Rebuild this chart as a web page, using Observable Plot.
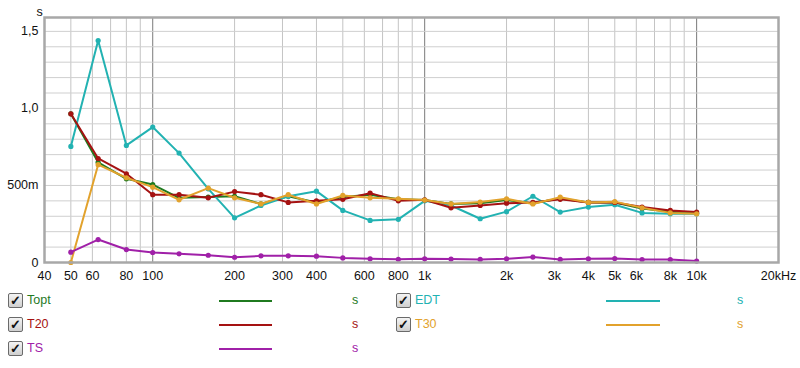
<!DOCTYPE html>
<html>
<head>
<meta charset="utf-8">
<script src="https://cdn.jsdelivr.net/npm/d3@7"></script>
<script src="https://cdn.jsdelivr.net/npm/@observablehq/plot@0.6"></script>
<style>
  html, body { margin: 0; padding: 0; background: #fff; }
  body { width: 800px; height: 368px; position: relative; overflow: hidden; font-family: "Liberation Sans", Arial, sans-serif; }
  #chart svg { display: block; }
  .item { position: absolute; height: 16px; font-size: 12.5px; }
  .cb { position: absolute; left: 0; top: 0; width: 13px; height: 13px; border: 1px solid #6a6a6a; border-radius: 2px;
        background: linear-gradient(#f4f4f4, #cfcfcf); font-size: 13px; line-height: 13px; text-align: center; color: #111; font-weight: bold; }
  .name { position: absolute; left: 19px; top: 0; line-height: 15px; }
  .swatch { position: absolute; height: 2px; top: 7px; }
  .unit { position: absolute; top: 0; line-height: 15px; }
</style>
</head>
<body>
<div id="chart"></div>
<div id="legend"></div>
<script>
const freqs = [50,63,80,100,125,160,200,250,315,400,500,630,800,1000,1250,1600,2000,2500,3150,4000,5000,6300,8000,10000];
const topt = [0.965,0.65,0.543,0.506,0.42,0.425,0.43,0.38,0.43,0.39,0.425,0.44,0.41,0.405,0.38,0.385,0.405,0.385,0.415,0.39,0.39,0.35,0.33,0.32];
const edt  = [0.753,1.44,0.76,0.879,0.71,0.478,0.29,0.37,0.43,0.463,0.338,0.273,0.28,0.40,0.37,0.284,0.33,0.43,0.327,0.36,0.375,0.322,0.316,0.316];
const t20  = [0.965,0.675,0.576,0.44,0.44,0.42,0.46,0.44,0.39,0.40,0.41,0.45,0.40,0.407,0.355,0.37,0.385,0.39,0.41,0.39,0.39,0.36,0.338,0.327];
const t30  = [0.0,0.635,0.55,0.489,0.407,0.483,0.42,0.38,0.44,0.38,0.435,0.42,0.413,0.405,0.38,0.392,0.413,0.38,0.424,0.39,0.395,0.355,0.322,0.316];
const ts   = [0.067,0.149,0.084,0.065,0.056,0.047,0.034,0.043,0.043,0.041,0.03,0.024,0.021,0.024,0.022,0.02,0.024,0.035,0.02,0.024,0.026,0.019,0.019,0.009];

const seriesNames = ["Topt","EDT","T20","T30","TS"];
const seriesValues = [topt, edt, t20, t30, ts];
const seriesColors = ["#1f7a1f","#22b2b2","#a51212","#e2a22c","#a020a8"];

const xTicks = [40,50,60,80,100,200,300,400,600,800,1000,2000,3000,4000,5000,6000,8000,10000,20000];
const xTickLabels = ["40","50","60","80","100","200","300","400","600","800","1k","2k","3k","4k","5k","6k","8k","10k","20kHz"];
const xMinorGrid = [50,60,70,80,90,200,300,400,500,600,700,800,900,2000,3000,4000,5000,6000,7000,8000,9000];
const xMajorGrid = [100,1000,10000];
const yGrid = [0.1,0.2,0.3,0.4,0.5,0.6,0.7,0.8,0.9,1.0,1.1,1.2,1.3,1.4,1.5];
const yTicks = [0,0.5,1.0,1.5];
const yTickLabels = ["0","500m","1,0","1,5"];

const rows = [];
seriesNames.forEach((name, si) => {
  freqs.forEach((f, i) => rows.push({series: name, f, v: seriesValues[si][i]}));
});

const colorOf = Object.fromEntries(seriesNames.map((n, i) => [n, seriesColors[i]]));

const xLabelRows = xTicks.map((f, i) => ({f, label: xTickLabels[i]}));
const yLabelRows = yTicks.map((v, i) => ({v, label: yTickLabels[i]}));

const marks = [
  Plot.ruleX(xMinorGrid, {stroke: "#c4c4c4", strokeWidth: 1}),
  Plot.ruleX(xMajorGrid, {stroke: "#7a7a7a", strokeWidth: 1}),
  Plot.ruleY(yGrid, {stroke: "#cfcfcf", strokeWidth: 1}),
];
seriesNames.forEach(name => {
  const d = rows.filter(r => r.series === name);
  marks.push(Plot.line(d, {x: "f", y: "v", stroke: colorOf[name], strokeWidth: 2}));
  marks.push(Plot.dot(d, {x: "f", y: "v", fill: colorOf[name], r: 2.6}));
});
marks.push(
  Plot.frame({stroke: "#a8a8a8", strokeWidth: 2.5}),
  Plot.text(xLabelRows, {x: "f", text: "label", frameAnchor: "bottom", dy: 13, fontSize: 12.5, fill: "#111", lineAnchor: "middle"}),
  Plot.text(yLabelRows, {y: "v", text: "label", frameAnchor: "left", dx: -6, textAnchor: "end", fontSize: 12.5, fill: "#111"}),
  Plot.text(["s"], {frameAnchor: "top-left", dx: -8, dy: -10, fontSize: 12.5, fill: "#111"})
);

const chart = Plot.plot({
  width: 800,
  height: 285,
  marginLeft: 44,
  marginRight: 22,
  marginTop: 17,
  marginBottom: 23,
  style: {fontFamily: "'Liberation Sans', Arial, sans-serif", background: "#fff", overflow: "visible"},
  x: {type: "log", domain: [40, 20000], axis: null, label: null},
  y: {domain: [0, 1.59], axis: null, label: null},
  marks
});
document.getElementById("chart").append(chart);

// legend (HTML below the SVG)
const legend = document.getElementById("legend");
const layout = [
  {name: "Topt", left: 8, top: 293, lineL: 219, lineW: 53, unitL: 352},
  {name: "EDT", left: 396, top: 293, lineL: 606, lineW: 54, unitL: 737},
  {name: "T20", left: 8, top: 317, lineL: 219, lineW: 53, unitL: 352},
  {name: "T30", left: 396, top: 317, lineL: 606, lineW: 54, unitL: 737},
  {name: "TS", left: 8, top: 341, lineL: 219, lineW: 53, unitL: 352},
];
layout.forEach(L => {
  const c = colorOf[L.name];
  const it = document.createElement("div");
  it.className = "item";
  it.style.left = L.left + "px";
  it.style.top = L.top + "px";
  it.style.width = (L.unitL - L.left + 20) + "px";
  it.innerHTML = `<span class="cb">✓</span><span class="name" style="color:${c}">${L.name}</span>` +
    `<span class="swatch" style="left:${L.lineL - L.left}px;width:${L.lineW}px;background:${c}"></span>` +
    `<span class="unit" style="left:${L.unitL - L.left}px;color:${c}">s</span>`;
  legend.append(it);
});
</script>
</body>
</html>
